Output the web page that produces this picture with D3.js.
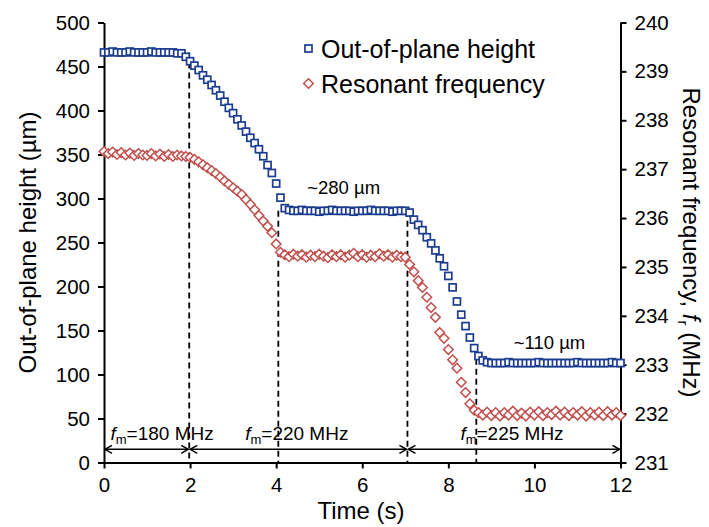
<!DOCTYPE html>
<html>
<head>
<meta charset="utf-8">
<script src="https://cdn.jsdelivr.net/npm/d3@7"></script>
<style>
    body { margin: 0; background: #fff; }
    #chart-area { width: 709px; height: 527px; }
    text { font-family: "Liberation Sans", Arial, sans-serif; fill: #000; }
</style>
</head>
<body>
<div id="chart-area"></div>
<script>

// time between two samples (s)
const sampleStep = 0.1;

// out-of-plane height (um), one value per sample
const heightValues = [
    466, 466, 467, 466, 466, 466, 467, 466, 466, 466, 466, 467, 466, 466, 466, 466, 466, 465,
    465, 461, 456, 451, 446, 440, 435, 429, 423, 417, 410, 403, 397, 390, 383, 376, 369, 363,
    356, 348, 338, 329, 317, 301, 289, 287,
    286, 286, 287, 286, 286, 286, 285, 286, 286, 287, 286, 286, 286, 286, 285, 286, 286, 286,
    287, 286, 286, 286, 286, 285, 286, 286, 286,
    284, 276, 270, 264, 256, 249, 241, 232, 223, 212, 199, 183, 168, 155, 142, 130, 121, 116, 114,
    113, 113, 113, 113, 114, 113, 113, 113, 113, 113, 113, 114, 113, 113, 113, 113, 113, 113,
    113, 113, 114, 113, 113, 113, 113, 113, 113, 113, 114, 113, 113
];

// resonant frequency (MHz), one value per sample
const freqValues = [
    237.36, 237.32, 237.35, 237.30, 237.34, 237.29, 237.33, 237.28, 237.32, 237.29, 237.28,
    237.32, 237.27, 237.31, 237.26, 237.30, 237.26, 237.29, 237.27,
    237.26, 237.24, 237.20, 237.15, 237.09, 237.03, 236.97, 236.91, 236.84, 236.76, 236.69,
    236.62, 236.55, 236.48, 236.38, 236.28, 236.17, 236.05, 235.94, 235.83, 235.70, 235.47,
    235.30, 235.25,
    235.21, 235.26, 235.22, 235.25, 235.20, 235.24, 235.21, 235.26, 235.22, 235.19, 235.25,
    235.21, 235.25, 235.20, 235.24, 235.28, 235.21, 235.25, 235.20, 235.24, 235.21, 235.27,
    235.22, 235.25, 235.20, 235.24, 235.21,
    235.20, 235.05, 234.90, 234.72, 234.58, 234.38, 234.17, 233.97, 233.66, 233.54, 233.31,
    233.10, 232.93, 232.64, 232.43, 232.20, 232.07, 232.02,
    231.97, 232.03, 231.96, 232.02, 231.95, 232.02, 231.97, 232.05, 231.96, 232.01, 231.95,
    232.03, 231.97, 232.04, 231.96, 232.02, 231.98, 232.05, 231.97, 232.03, 231.96, 232.02,
    231.97, 232.04, 231.95, 232.02, 231.97, 232.03, 231.96, 232.04, 231.97, 232.02, 231.96
];

const timeTicks = [0, 2, 4, 6, 8, 10, 12];
const heightTicks = [0, 50, 100, 150, 200, 250, 300, 350, 400, 450, 500];
const freqTicks = [231, 232, 233, 234, 235, 236, 237, 238, 239, 240];

// dashed markers: time and the height where each line starts
const markerTimes = [1.98, 4.05, 7.05, 8.65];
const markerTops = [466, 286, 286, 118];

// modulation frequency bands
const bandEdges = [0, 1.98, 7.05, 12];
const bandLabels = ["=180 MHz", "=220 MHz", "=225 MHz"];
const bandLabelStarts = [0.15, 3.28, 8.28];

const plateauLabels = ["~280 µm", "~110 µm"];
const plateauLabelPos = [[4.72, 305], [9.52, 129]];

const legendLabels = ["Out-of-plane height", "Resonant frequency"];


class DualAxisChart {

    constructor(parentElement) {
        this._parentElement = parentElement;

        this._heightData = heightValues.map((v, i) => ({time: i * sampleStep, value: v}));
        this._freqData = freqValues.map((v, i) => ({time: i * sampleStep, value: v}));

        this.initVis();
    }

    initVis() {
        let vis = this;

        vis.margin = {top: 22.5, right: 88.5, bottom: 64.5, left: 104};
        vis.width = 709 - vis.margin.left - vis.margin.right;
        vis.height = 527 - vis.margin.top - vis.margin.bottom;

        vis.svg = d3.select("#" + vis._parentElement).append("svg")
            .attr("width", 709)
            .attr("height", 527)
            .append("g")
            .attr("transform", "translate(" + vis.margin.left + "," + vis.margin.top + ")");

        // Scales
        vis.x = d3.scaleLinear().domain([0, 12]).range([0, vis.width]);
        vis.yLeft = d3.scaleLinear().domain([0, 500]).range([vis.height, 0]);
        vis.yRight = d3.scaleLinear().domain([231, 240]).range([vis.height, 0]);

        // Axes
        vis.xAxis = d3.axisBottom(vis.x).tickValues(timeTicks).tickSize(6).tickSizeOuter(0).tickPadding(9);
        vis.yAxisLeft = d3.axisLeft(vis.yLeft).tickValues(heightTicks).tickSize(6).tickSizeOuter(0).tickPadding(8);
        vis.yAxisRight = d3.axisRight(vis.yRight).tickValues(freqTicks).tickSize(6).tickSizeOuter(0).tickPadding(8);

        vis.svg.append("g")
            .attr("class", "axis")
            .attr("transform", "translate(0," + vis.height + ")")
            .call(vis.xAxis);

        vis.svg.append("g")
            .attr("class", "axis")
            .call(vis.yAxisLeft);

        vis.svg.append("g")
            .attr("class", "axis")
            .attr("transform", "translate(" + vis.width + ",0)")
            .call(vis.yAxisRight);

        vis.svg.selectAll(".axis path, .axis line")
            .attr("stroke", "#000")
            .attr("stroke-width", 2);
        vis.svg.selectAll(".axis text")
            .style("font-size", "20.5px");

        // Dashed markers
        vis.svg.selectAll(".marker")
            .data(markerTimes)
            .enter().append("line")
            .attr("class", "marker")
            .attr("x1", d => vis.x(d))
            .attr("x2", d => vis.x(d))
            .attr("y1", (d, i) => vis.yLeft(markerTops[i]))
            .attr("y2", vis.height)
            .attr("stroke", "#000")
            .attr("stroke-width", 1.8)
            .attr("stroke-dasharray", "6,4");

        // Band arrows
        let arrowY = vis.yLeft(15);
        for (let i = 0; i < bandLabels.length; i++) {
            let x0 = vis.x(bandEdges[i]) + 1;
            let x1 = vis.x(bandEdges[i + 1]) - 1;
            vis.svg.append("line")
                .attr("x1", x0).attr("x2", x1)
                .attr("y1", arrowY).attr("y2", arrowY)
                .attr("stroke", "#000").attr("stroke-width", 1.5);
            vis.svg.append("path")
                .attr("d", "M" + (x0 + 7) + "," + (arrowY - 4) + "L" + x0 + "," + arrowY + "L" + (x0 + 7) + "," + (arrowY + 4)
                    + "M" + (x1 - 7) + "," + (arrowY - 4) + "L" + x1 + "," + arrowY + "L" + (x1 - 7) + "," + (arrowY + 4))
                .attr("fill", "none").attr("stroke", "#000").attr("stroke-width", 1.5);

            let label = vis.svg.append("text")
                .attr("x", vis.x(bandLabelStarts[i]))
                .attr("y", vis.yLeft(26))
                .style("font-size", "19px");
            label.append("tspan").style("font-style", "italic").text("f");
            label.append("tspan").attr("dy", 4).style("font-size", "13px").text("m");
            label.append("tspan").attr("dy", -4).text(bandLabels[i]);
        }

        // Plateau labels
        vis.svg.selectAll(".plateau")
            .data(plateauLabels)
            .enter().append("text")
            .attr("class", "plateau")
            .attr("x", (d, i) => vis.x(plateauLabelPos[i][0]))
            .attr("y", (d, i) => vis.yLeft(plateauLabelPos[i][1]))
            .style("font-size", "18.5px")
            .text(d => d);

        // Resonant frequency (diamonds)
        vis.svg.selectAll(".freq")
            .data(vis._freqData)
            .enter().append("path")
            .attr("class", "freq")
            .attr("transform", d => "translate(" + vis.x(d.time) + "," + vis.yRight(d.value) + ")")
            .attr("d", "M0,-4.8L4.8,0L0,4.8L-4.8,0Z")
            .attr("fill", "#fff")
            .attr("stroke", "#c0504d")
            .attr("stroke-width", 1.5);

        // Out-of-plane height (squares)
        vis.svg.selectAll(".height")
            .data(vis._heightData)
            .enter().append("rect")
            .attr("class", "height")
            .attr("x", d => vis.x(d.time) - 3.5)
            .attr("y", d => vis.yLeft(d.value) - 3.5)
            .attr("width", 7)
            .attr("height", 7)
            .attr("fill", "#fff")
            .attr("stroke", "#1c3d8f")
            .attr("stroke-width", 1.7);

        // Legend
        let legend = vis.svg.append("g")
            .attr("transform", "translate(" + (308.5 - vis.margin.left) + "," + (48.5 - vis.margin.top) + ")");
        legend.append("rect")
            .attr("x", -3.5).attr("y", -3.5).attr("width", 7).attr("height", 7)
            .attr("fill", "#fff").attr("stroke", "#1c3d8f").attr("stroke-width", 1.7);
        legend.append("path")
            .attr("transform", "translate(0,35)")
            .attr("d", "M0,-4.8L4.8,0L0,4.8L-4.8,0Z")
            .attr("fill", "#fff").attr("stroke", "#c0504d").attr("stroke-width", 1.5);
        legend.selectAll(".legend-label")
            .data(legendLabels)
            .enter().append("text")
            .attr("x", 12.5)
            .attr("y", (d, i) => 9 + i * 35)
            .style("font-size", "25px")
            .text(d => d);

        // Axis titles
        vis.svg.append("text")
            .attr("x", 361 - vis.margin.left)
            .attr("y", 519 - vis.margin.top)
            .attr("text-anchor", "middle")
            .style("font-size", "24px")
            .text("Time (s)");

        vis.svg.append("text")
            .attr("transform", "translate(" + (36 - vis.margin.left) + "," + (vis.height / 2) + ") rotate(-90)")
            .attr("text-anchor", "middle")
            .style("font-size", "24px")
            .text("Out-of-plane height (µm)");

        let rightTitle = vis.svg.append("text")
            .attr("transform", "translate(" + (683 - vis.margin.left) + "," + (vis.height / 2) + ") rotate(90)")
            .attr("text-anchor", "middle")
            .style("font-size", "24px");
        rightTitle.append("tspan").text("Resonant frequency, ");
        rightTitle.append("tspan").style("font-style", "italic").text("f");
        rightTitle.append("tspan").attr("dy", 5).style("font-size", "15px").text("r");
        rightTitle.append("tspan").attr("dy", -5).text(" (MHz)");
    }
}

new DualAxisChart("chart-area");

</script>
</body>
</html>
